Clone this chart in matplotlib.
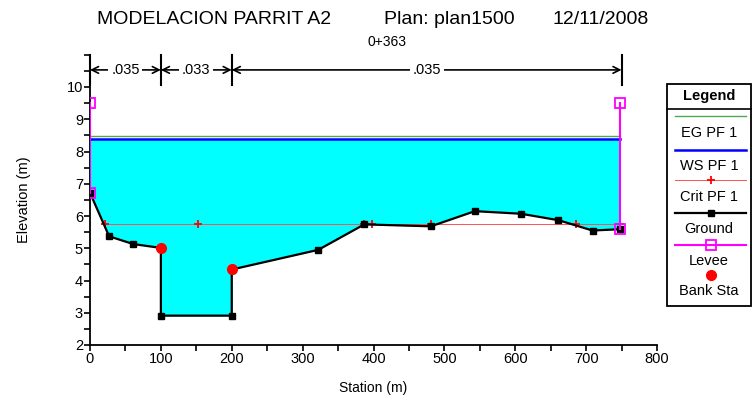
import matplotlib
matplotlib.use("Agg")
import matplotlib.pyplot as plt
from matplotlib.lines import Line2D
from matplotlib.patches import Rectangle
from matplotlib.ticker import MultipleLocator

plt.rcParams['font.family'] = ['Liberation Sans Narrow', 'Liberation Sans', 'DejaVu Sans']

# ---- data ----
ground_sta = [0, 27, 61, 100, 100, 200, 200, 322, 387, 481, 543, 608, 661, 709, 748]
ground_elev = [6.72, 5.37, 5.13, 5.01, 2.91, 2.91, 4.34, 4.95, 5.74, 5.68, 6.15, 6.07, 5.87, 5.55, 5.59]
ws_sta = [0, 748]
ws_elev = [8.40, 8.40]
eg_elev = [8.47, 8.47]
crit_sta = [21, 152, 387, 398, 481, 686, 748]
crit_elev = [5.76, 5.76, 5.76, 5.76, 5.76, 5.76, 5.76]
levee_left_sta = [0, 0]
levee_left_elev = [6.72, 9.5]
levee_right_sta = [748, 748]
levee_right_elev = [9.5, 5.59]
bank_sta = [100, 200]
bank_elev = [5.01, 4.37]
n_breaks = [0, 100, 200, 750]
n_values = ['.035', '.033', '.035']

fig = plt.figure(figsize=(7.54, 4.05), dpi=100)
ax = fig.add_axes([90/754, 1-345/405, 567/754, (345-54.75)/405])

ax.fill_between(ground_sta, ground_elev, ws_elev[0], color='#00ffff', lw=0, zorder=1)
ax.plot(ws_sta, eg_elev, color='#50a850', lw=1.0, zorder=3)
ax.plot(ws_sta, ws_elev, color='#0000ff', lw=1.8, zorder=3)
ax.plot(crit_sta, crit_elev, color='#ff5050', lw=0.7, marker='+', ms=6, mew=1.3,
        mec='#ff0000', zorder=4)
ax.plot(ground_sta, ground_elev, color='black', lw=1.6, marker='s', ms=5, zorder=5)
ax.plot(levee_left_sta, levee_left_elev, color='#ff00ff', lw=1.5, marker='s', ms=6.5,
        mfc='none', mew=1.3, zorder=6)
ax.plot(levee_right_sta, levee_right_elev, color='#ff00ff', lw=1.5, marker='s', ms=6.5,
        mfc='none', mew=1.3, zorder=6)
ax.plot(bank_sta, bank_elev, ls='none', marker='o', color='#ff0000', ms=7, zorder=7)

# n-value brackets
yb = 10.53
for s in n_breaks:
    ax.plot([s, s], [10.06, 10.99], color='black', lw=1.5, clip_on=False, zorder=8)
for i, nv in enumerate(n_values):
    a, b = n_breaks[i], n_breaks[i+1]
    ax.annotate('', xy=(a, yb), xytext=(b, yb),
                arrowprops=dict(arrowstyle='<->', lw=1.2, color='black',
                                shrinkA=0, shrinkB=0, mutation_scale=12),
                annotation_clip=False, zorder=8)
    ax.text((a+b)/2, yb, nv, ha='center', va='center', fontsize=10.5,
            bbox=dict(facecolor='white', edgecolor='none', pad=2), zorder=9)

ax.set_xlim(0, 800)
ax.set_ylim(2, 11.0)
ax.set_xticks(range(0, 801, 100))
ax.set_yticks(range(2, 11))
ax.xaxis.set_minor_locator(MultipleLocator(50))
ax.yaxis.set_minor_locator(MultipleLocator(0.5))
ax.tick_params(which='both', direction='out', length=4, width=1.2, labelsize=10.5, pad=1)
for sp in ['top', 'right']:
    ax.spines[sp].set_visible(False)
for sp in ['left', 'bottom']:
    ax.spines[sp].set_linewidth(1.3)
ax.set_xlabel('Station (m)', fontsize=10, labelpad=11)
ax.set_ylabel('Elevation (m)', fontsize=10.5, labelpad=26)

# titles
fig.text(97/754, 1-20/405, 'MODELACION PARRIT A2', fontsize=14, ha='left', va='center')
fig.text(384/754, 1-20/405, 'Plan: plan1500', fontsize=14, ha='left', va='center')
fig.text(553/754, 1-20/405, '12/11/2008', fontsize=14, ha='left', va='center')
fig.text(387/754, 1-42/405, '0+363', fontsize=10, ha='center', va='center')

# legend box
W, H = 754, 405
def fx(x): return x / W
def fy(y): return 1 - y / H
fig.patches.append(Rectangle((fx(667), fy(306)), fx(751)-fx(667), fy(84)-fy(306),
                             transform=fig.transFigure, fill=False, ec='black', lw=1.3))
fig.lines.append(Line2D([fx(667), fx(751)], [fy(108.5), fy(108.5)],
                        transform=fig.transFigure, color='black', lw=1.2))
fig.text(fx(709), fy(96), 'Legend', fontsize=10.5, fontweight='bold', ha='center', va='center')
xl = [fx(675), fx(746)]
xm = fx(711)
entries = [
    (115.7, dict(color='#50a850', lw=1.0), None, 'EG PF 1', 133.3),
    (150, dict(color='#0000ff', lw=1.8), None, 'WS PF 1', 165.7),
    (180, dict(color='#ff5050', lw=0.7), dict(marker='+', ms=6, mew=1.3, color='#ff0000'), 'Crit PF 1', 196.7),
    (213.3, dict(color='black', lw=1.6), dict(marker='s', ms=5, color='black'), 'Ground', 229),
    (245, dict(color='#ff00ff', lw=1.5), dict(marker='s', ms=6.5, mfc='none', mew=1.3, color='#ff00ff'), 'Levee', 261),
]
for yline, lstyle, mstyle, label, ytext in entries:
    fig.lines.append(Line2D(xl, [fy(yline)]*2, transform=fig.transFigure, **lstyle))
    if mstyle:
        fig.lines.append(Line2D([xm], [fy(yline)], transform=fig.transFigure, ls='none', **mstyle))
    fig.text(fx(709), fy(ytext), label, fontsize=10.5, ha='center', va='center')
fig.lines.append(Line2D([xm], [fy(275)], transform=fig.transFigure, ls='none',
                        marker='o', ms=7, color='#ff0000'))
fig.text(fx(709), fy(290.7), 'Bank Sta', fontsize=10.5, ha='center', va='center')

fig.savefig('out.png', dpi=100)
